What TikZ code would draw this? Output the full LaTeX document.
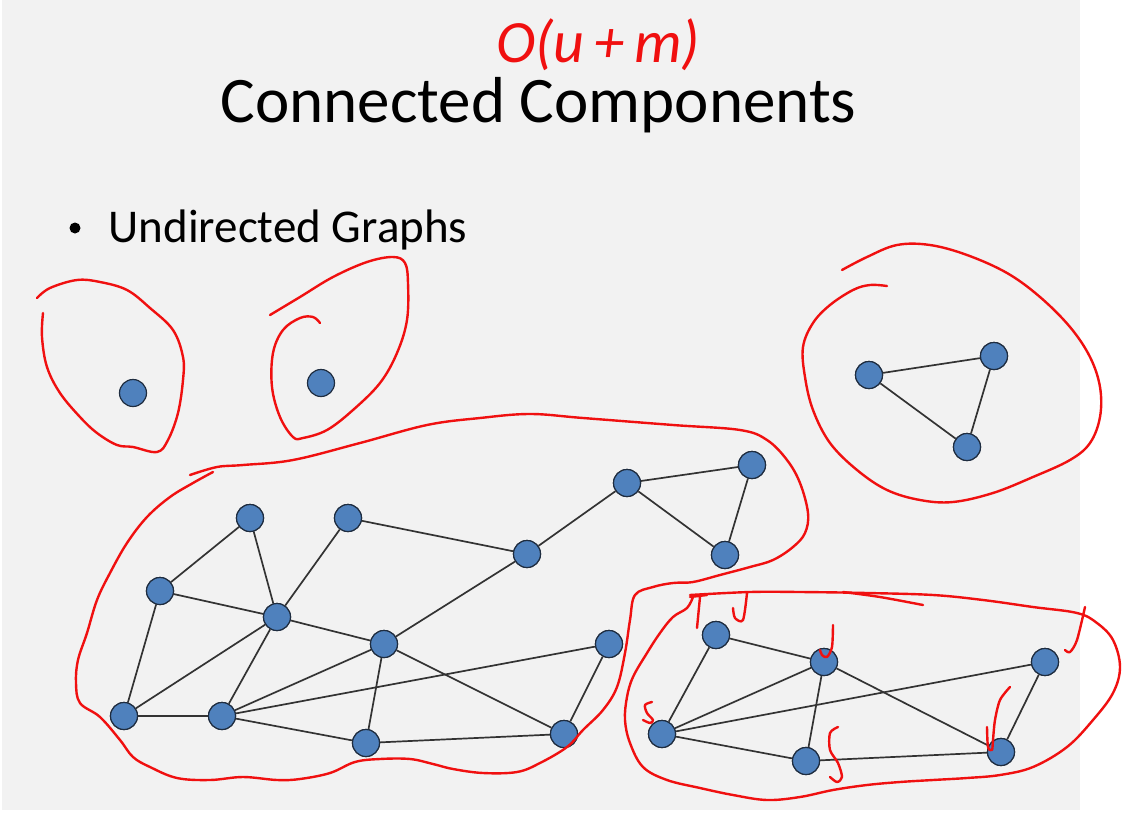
\documentclass[tikz,border=0pt]{standalone}
\usepackage{fontspec}
\setmainfont{Carlito}
\usepackage{tikz}
\usetikzlibrary{positioning}

\definecolor{slidegray}{HTML}{F2F2F2}
\definecolor{vtxblue}{HTML}{4F81BD}
\definecolor{vtxline}{HTML}{1F2D40}
\definecolor{penred}{HTML}{F01010}

\begin{document}
\begin{tikzpicture}[x=0.5pt,y=-0.5pt,semithick,
	vtx/.style={circle,fill=vtxblue,draw=vtxline,line width=0.6pt,minimum size=13.5pt,inner sep=0pt},
	link/.style={draw=black!80,line width=0.85pt},
	pen/.style={penred,line width=1.2pt,line cap=round,line join=round}]
	\useasboundingbox (0,0) rectangle (1126,815);
	\fill[white] (0,0) rectangle (1126,815);
	\fill[slidegray] (2,0) rectangle (1080,810);

	% slide text
	\node[anchor=base west,inner sep=0pt,font=\fontsize{32.5}{38}\selectfont] (title) at (220,122) {Connected Components};
	\node[anchor=base west,inner sep=0pt,font=\fontsize{23.5}{28}\selectfont] (sub) at (108,242) {Undirected Graphs};
	\fill (75,228) circle (5.5);
	\node[penred,inner sep=0pt,font=\fontsize{30}{36}\selectfont\itshape] (cost) at (598,45) {O(u\,+\,m)};

	% single vertices
	\node[vtx] (a) at (133,393) {};
	\node[vtx] (b) at (321,383) {};

	% triangle
	\node[vtx] (t1) at (869,375) {};
	\node[vtx] (t2) at (994,356) {};
	\node[vtx] (t3) at (967,447) {};

	% big component
	\node[vtx] (n1) at (250,518) {};
	\node[vtx] (n2) at (348,518) {};
	\node[vtx] (n3) at (160,591) {};
	\node[vtx] (n4) at (277,617) {};
	\node[vtx] (n5) at (384,644) {};
	\node[vtx] (n6) at (124,716) {};
	\node[vtx] (n7) at (222,716) {};
	\node[vtx] (n8) at (366,743) {};
	\node[vtx] (n9) at (527,554) {};
	\node[vtx] (n10) at (627,483) {};
	\node[vtx] (n11) at (752,465) {};
	\node[vtx] (n12) at (725,555) {};
	\node[vtx] (n13) at (609,644) {};
	\node[vtx] (n14) at (564,734) {};

	% right component
	\node[vtx] (m1) at (716,635) {};
	\node[vtx] (m2) at (824,662) {};
	\node[vtx] (m3) at (662,734) {};
	\node[vtx] (m4) at (806,761) {};
	\node[vtx] (m5) at (1045,662) {};
	\node[vtx] (m6) at (1001,752) {};

	\path[link]
		(t1) edge (t2) edge (t3)
		(t2) edge (t3)
		(n1) edge (n3) edge (n4)
		(n2) edge (n4) edge (n9)
		(n3) edge (n4) edge (n6)
		(n4) edge (n6) edge (n7) edge (n5)
		(n5) edge (n9) edge (n7) edge (n8) edge (n14)
		(n9) edge (n10)
		(n10) edge (n11) edge (n12)
		(n11) edge (n12)
		(n6) edge (n7)
		(n7) edge (n13) edge (n8)
		(n8) edge (n14)
		(n13) edge (n14)
		(m1) edge (m2) edge (m3)
		(m3) edge (m2) edge (m5) edge (m4)
		(m2) edge (m4) edge (m6)
		(m4) edge (m6)
		(m5) edge (m6);
	% redraw vertices over the links
	\foreach \v in {t1,t2,t3,n1,n2,n3,n4,n5,n6,n7,n8,n9,n10,n11,n12,n13,n14,m1,m2,m3,m4,m5,m6}
		\node[vtx] at (\v) {};

	% pen loops
	\draw[pen] plot[smooth,tension=0.6] coordinates {(37,298) (50,288) (77,280) (100,282) (127,290) (150,308) (173,330) (183,357) (183,380) (178,413) (168,440) (157,452) (133,447) (117,445) (97,433) (80,417) (60,393) (47,367) (42,337) (43,313)};
	\draw[pen] plot[smooth,tension=0.6] coordinates {(270,315) (300,297) (333,277) (367,262) (393,257) (405,263) (408,283) (407,320) (397,353) (380,383) (353,410) (327,430) (303,438) (293,437) (280,417) (272,387) (273,353) (283,330) (300,318) (313,317) (320,323)};
	\draw[pen] plot[smooth,tension=0.6] coordinates {(190,475) (217,467) (243,465) (293,460) (360,443) (427,425) (480,418) (530,414) (583,418) (673,425) (740,430) (767,440) (787,460) (800,483) (808,513) (805,533) (793,547) (773,560) (750,567) (720,575) (693,582) (673,583) (653,587) (635,595) (630,620) (625,653) (617,687) (603,710) (583,730) (567,747) (540,763) (517,772) (483,773) (453,769) (433,764) (410,759) (380,759) (355,762) (330,773) (300,779) (277,780) (243,777) (210,780) (177,778) (150,767) (133,757) (120,740) (100,717) (80,703) (76,683) (78,660) (87,633) (97,600) (110,573) (127,543) (147,517) (170,497) (193,483) (213,472)};
	\draw[pen] plot[smooth,tension=0.6] coordinates {(842,270) (867,257) (897,245) (930,245) (967,255) (1007,273) (1040,297) (1070,327) (1090,357) (1100,387) (1100,417) (1090,443) (1070,460) (1033,477) (993,493) (953,502) (920,500) (887,490) (857,470) (830,443) (813,410) (805,377) (803,347) (813,323) (830,305) (853,290) (870,285) (887,286)};
	\draw[pen] plot[smooth,tension=0.6] coordinates {(693,597) (687,608) (673,617) (660,633) (647,653) (633,677) (627,697) (625,720) (630,743) (643,767) (667,780) (700,788) (733,795) (767,800) (800,797) (833,790) (867,785) (900,782) (933,780) (967,778) (1000,775) (1033,767) (1067,747) (1093,720) (1113,693) (1120,667) (1113,640) (1097,623) (1077,613) (1033,607) (983,600) (933,595) (867,593) (800,592) (750,592) (690,595)};
	\draw[pen] plot[smooth] coordinates {(843,592) (880,597) (923,605)};

	% pen ticks
	\draw[pen] (690,597) -- (707,595) (700,597) -- (697,628);
	\draw[pen] plot[smooth] coordinates {(747,593) (743,620) (735,618) (733,608)};
	\draw[pen] plot[smooth] coordinates {(833,625) (832,647) (827,657) (822,655) (820,650)};
	\draw[pen] plot[smooth] coordinates {(1085,607) (1077,640) (1070,652) (1065,650)};
	\draw[pen] plot[smooth] coordinates {(1010,687) (1000,700) (995,720) (993,740) (992,750) (988,747) (987,727)};
	\draw[pen] plot[smooth] coordinates {(838,727) (830,733) (830,750) (838,763) (842,777) (837,782) (830,777)};
	\draw[pen] plot[smooth] coordinates {(652,702) (645,705) (647,713) (653,720) (650,723) (643,720)};
\end{tikzpicture}
\end{document}
